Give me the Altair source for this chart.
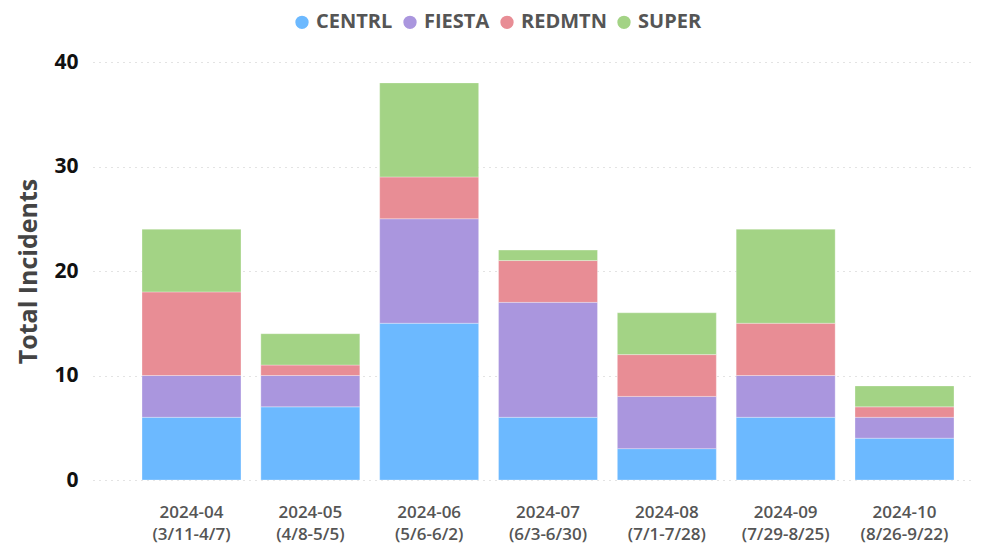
import altair as alt
import pandas as pd

periods = ["2024-04|(3/11-4/7)", "2024-05|(4/8-5/5)", "2024-06|(5/6-6/2)",
           "2024-07|(6/3-6/30)", "2024-08|(7/1-7/28)", "2024-09|(7/29-8/25)",
           "2024-10|(8/26-9/22)"]
series = ["CENTRL", "FIESTA", "REDMTN", "SUPER"]
centrl = [6, 7, 15, 6, 3, 6, 4]
fiesta = [4, 3, 10, 11, 5, 4, 2]
redmtn = [8, 1, 4, 4, 4, 5, 1]
super_ = [6, 3, 9, 1, 4, 9, 2]
colors = ["#6cb9ff", "#aa96de", "#e88d95", "#a3d385"]

rows = []
for name, vals in zip(series, [centrl, fiesta, redmtn, super_]):
    for p, v in zip(periods, vals):
        rows.append({"period": p, "site": name, "count": v, "order": series.index(name)})
df = pd.DataFrame(rows)

font = "Open Sans"

chart = alt.Chart(df).mark_bar(stroke="#ffffff", strokeWidth=0.6, strokeOpacity=0.5).encode(
    x=alt.X("period:N", sort=periods,
            scale=alt.Scale(paddingInner=0.167, paddingOuter=0.2946, align=0.7),
            axis=alt.Axis(title=None, labelExpr="split(datum.label, '|')", labelAngle=0,
                          labelFont=font, labelFontSize=17, labelFontWeight=600,
                          labelColor="#555555", labelPadding=24, labelLineHeight=22,
                          ticks=False, domain=False, grid=False)),
    y=alt.Y("count:Q", stack="zero",
            scale=alt.Scale(domain=[0, 40]),
            axis=alt.Axis(title="Total Incidents", values=[0, 10, 20, 30, 40],
                          titleFont=font, titleFontSize=25, titleFontWeight="bold",
                          titleColor="#444444", titlePadding=12,
                          labelFont=font, labelFontSize=21, labelFontWeight="bold",
                          labelColor="#111111", labelPadding=15,
                          ticks=False, domain=False, grid=True,
                          gridColor="#c8c8c8", gridDash=[1, 5], gridWidth=1.2)),
    color=alt.Color("site:N", sort=series,
                    scale=alt.Scale(domain=series, range=colors),
                    legend=alt.Legend(title=None, orient="none", legendX=199, legendY=-50,
                                      symbolType="circle",
                                      symbolSize=220, labelFont=font, labelFontSize=20,
                                      labelFontWeight="bold", labelColor="#555555",
                                      columnPadding=6, labelOffset=4,
                                      labelLimit=300, direction="horizontal")),
    order=alt.Order("order:Q", sort="ascending"),
).properties(
    width=882, height=418,
    padding={"left": 85, "top": 54, "right": 14, "bottom": 65},
    autosize=alt.AutoSizeParams(type="none"),
).configure_view(stroke=None)

chart.save("out.html", embed_options={"renderer": "svg", "actions": False})
